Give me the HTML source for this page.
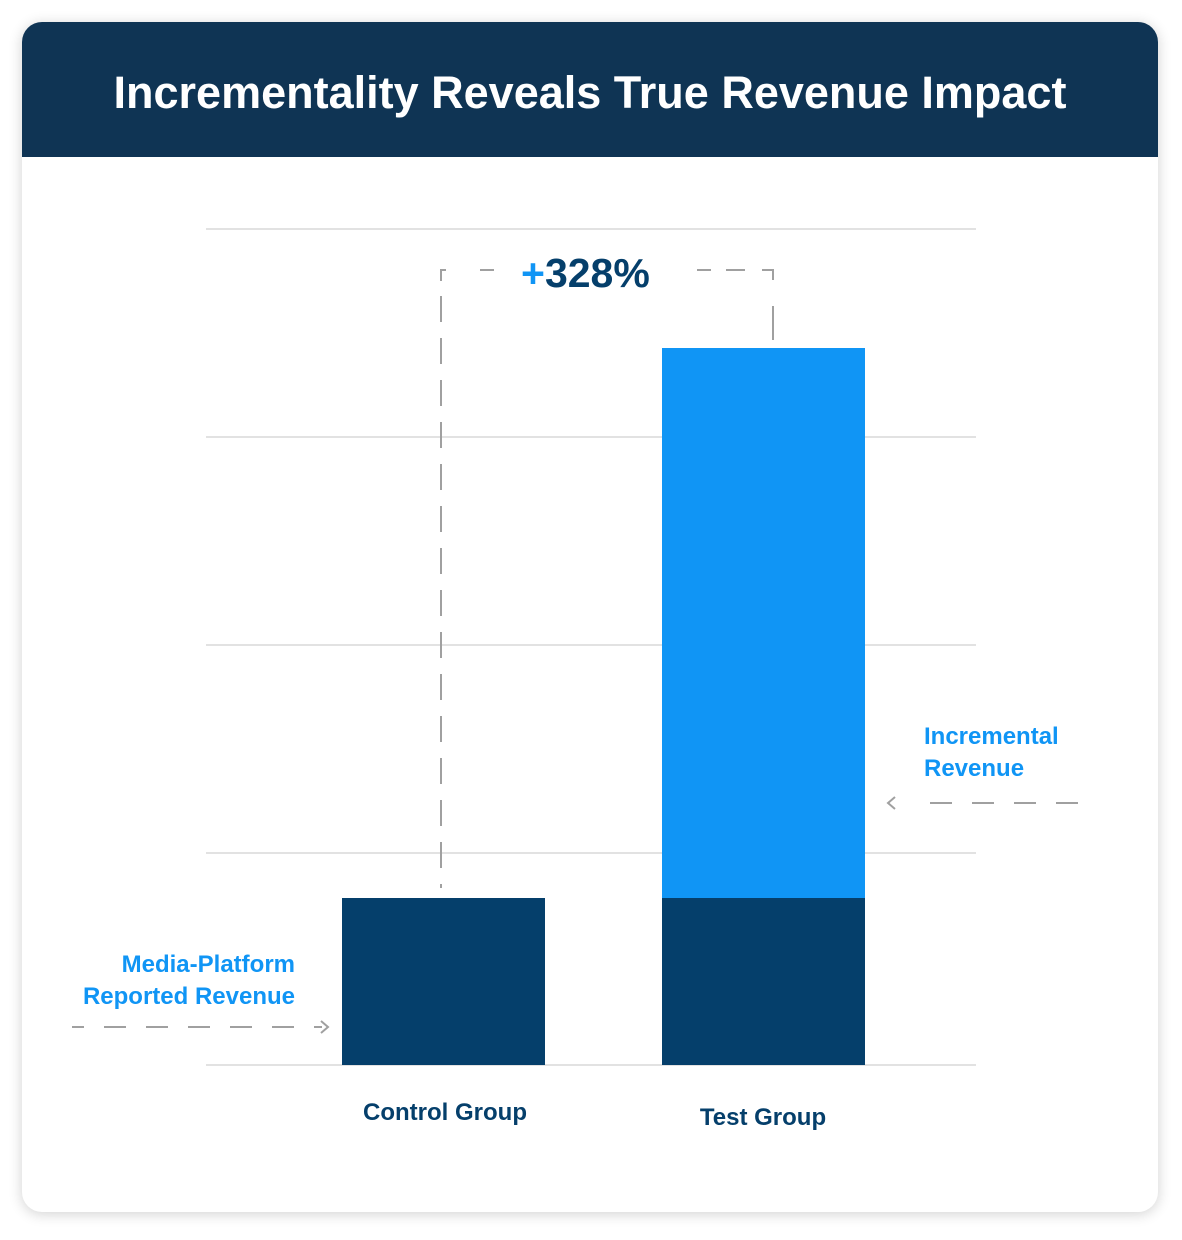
<!DOCTYPE html>
<html><head><meta charset="utf-8"><style>
html,body{margin:0;padding:0;background:#fff;}
</style></head><body>
<svg width="1182" height="1235" viewBox="0 0 1182 1235" xmlns="http://www.w3.org/2000/svg" font-family="Liberation Sans, sans-serif" font-weight="bold">
<defs>
<filter id="sh" x="-10%" y="-10%" width="120%" height="120%"><feGaussianBlur stdDeviation="7"/></filter>
<clipPath id="cp"><rect x="22" y="22" width="1136" height="1190" rx="20"/></clipPath>
</defs>
<rect x="22" y="24" width="1136" height="1190" rx="20" fill="#000" opacity="0.18" filter="url(#sh)"/>
<rect x="22" y="22" width="1136" height="1190" rx="20" fill="#fff"/>
<rect x="22" y="22" width="1136" height="135" fill="#0f3454" clip-path="url(#cp)"/>
<text x="590" y="108" text-anchor="middle" fill="#fff" font-size="45" letter-spacing="0">Incrementality Reveals True Revenue Impact</text>
<g stroke="#e2e2e2" stroke-width="2">
<line x1="206" y1="229" x2="976" y2="229"/>
<line x1="206" y1="437" x2="976" y2="437"/>
<line x1="206" y1="645" x2="976" y2="645"/>
<line x1="206" y1="853" x2="976" y2="853"/>
<line x1="206" y1="1065" x2="976" y2="1065"/>
</g>
<rect x="342" y="898" width="203" height="167" fill="#053f6b"/>
<rect x="662" y="348" width="203" height="550" fill="#1095f5"/>
<rect x="662" y="898" width="203" height="167" fill="#053f6b"/>
<g stroke="#a0a0a0" stroke-width="2" fill="none">
<path d="M446 270 H441 V281"/>
<line x1="441" y1="296" x2="441" y2="888" stroke-dasharray="26 16"/>
<line x1="480" y1="270" x2="494" y2="270"/>
<line x1="697" y1="270" x2="711" y2="270"/>
<line x1="726" y1="270" x2="745" y2="270"/>
<path d="M762 270 H773 V280"/>
<line x1="773" y1="306" x2="773" y2="340"/>
<line x1="72" y1="1027" x2="322" y2="1027" stroke-dasharray="12 20 22 20 22 20 22 20 22 20 22 20"/>
<line x1="1078" y1="803" x2="926" y2="803" stroke-dasharray="22 20"/>
<path d="M321 1021 L328 1027 L321 1033"/>
<path d="M895 797 L888 803 L895 809"/>
</g>
<text x="521" y="287" font-size="41" fill="#053f6b"><tspan fill="#1095f5">+</tspan>328%</text>
<g font-size="24" fill="#1095f5">
<text x="295" y="972" text-anchor="end">Media-Platform</text>
<text x="295" y="1004" text-anchor="end">Reported Revenue</text>
<text x="924" y="744">Incremental</text>
<text x="924" y="776">Revenue</text>
</g>
<g font-size="24" fill="#053f6b" text-anchor="middle">
<text x="445" y="1120">Control Group</text>
<text x="763" y="1125">Test Group</text>
</g>
</svg>
</body></html>
